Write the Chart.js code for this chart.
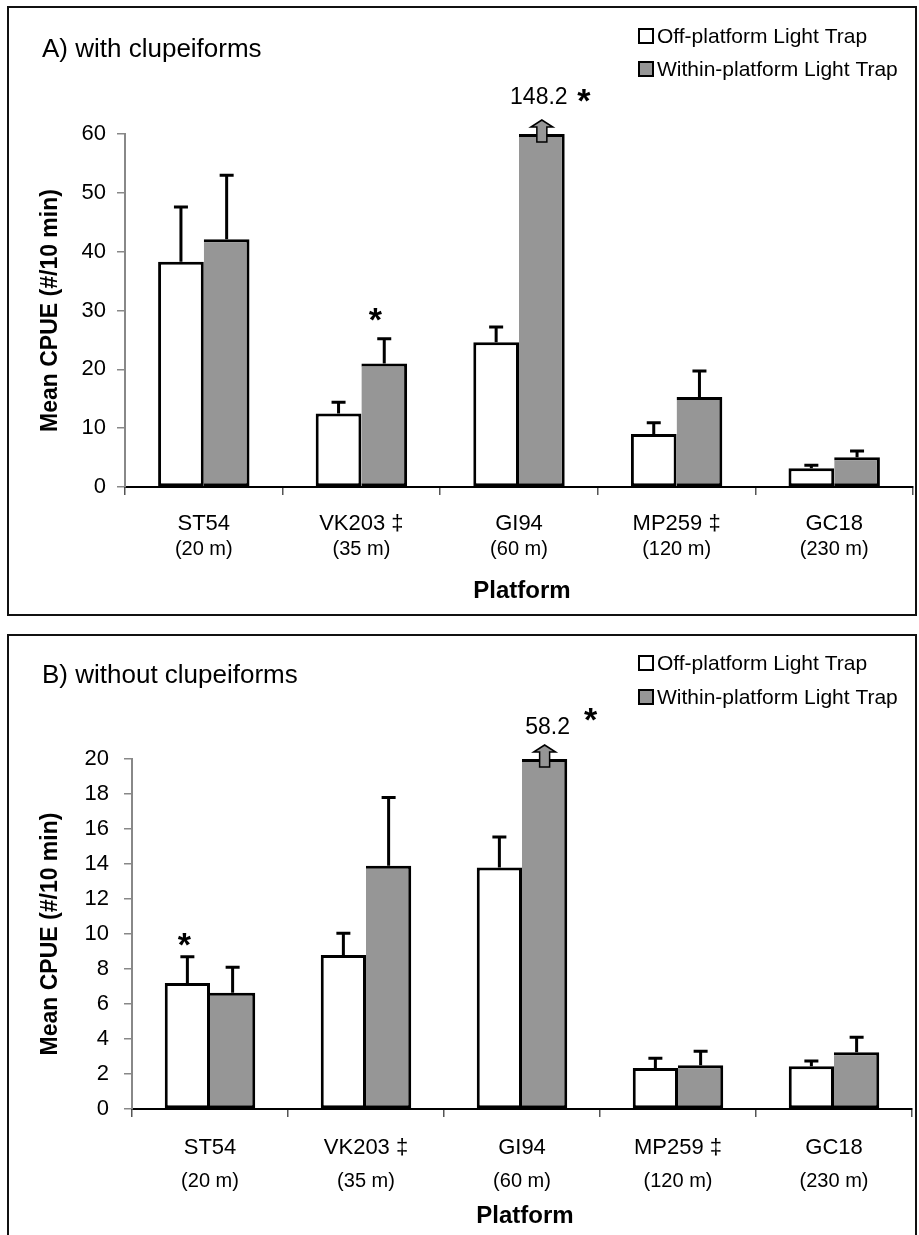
<!DOCTYPE html>
<html>
<head>
<meta charset="utf-8">
<script src="https://cdn.jsdelivr.net/npm/chart.js@4.4.1/dist/chart.umd.min.js"></script>
<style>
  html, body { margin: 0; padding: 0; background: #fff; overflow: hidden; }
  #page { position: relative; width: 919px; height: 1235px; }
  .frame { position: absolute; box-sizing: border-box; border: 2px solid #111; }
  canvas { position: absolute; left: 0; }
</style>
</head>
<body>
<div id="page">
  <div class="frame" style="left:7px;top:6px;width:910px;height:610px"></div>
  <div class="frame" style="left:7px;top:634px;width:910px;height:640px"></div>
  <canvas id="chart-a" width="919" height="625" style="top:0"></canvas>
  <canvas id="chart-b" width="919" height="610" style="top:625px"></canvas>
</div>
<script>
'use strict';

var platforms = ['ST54', 'VK203 \u2021', 'GI94', 'MP259 \u2021', 'GC18'];
var depths = ['(20 m)', '(35 m)', '(60 m)', '(120 m)', '(230 m)'];
var seriesNames = ['Off-platform Light Trap', 'Within-platform Light Trap'];

// A) with clupeiforms  (mean and +1 SE)
var offA = [38.3, 12.5, 24.6, 9.0, 3.2];
var offErrA = [9.3, 1.9, 2.6, 1.9, 0.5];
var withinA = [42.1, 21.0, 148.2, 15.3, 5.05];
var withinErrA = [10.9, 4.2, null, 4.4, 1.05];
var ticksA = [0, 10, 20, 30, 40, 50, 60];
var starsA = [{series: 1, index: 1}];

// B) without clupeiforms
var offB = [7.2, 8.8, 13.8, 2.35, 2.45];
var offErrB = [1.5, 1.25, 1.75, 0.55, 0.3];
var withinB = [6.65, 13.9, 58.2, 2.5, 3.25];
var withinErrB = [1.45, 3.9, null, 0.8, 0.85];
var ticksB = [0, 2, 4, 6, 8, 10, 12, 14, 16, 18, 20];
var starsB = [{series: 0, index: 0}];

var FONT = "'Liberation Sans', Arial, sans-serif";
var GRAY = '#969696';

var panels = [{
  id: 'chart-a', title: 'A) with clupeiforms',
  off: offA, offErr: offErrA, within: withinA, withinErr: withinErrA,
  ticks: ticksA, stars: starsA,
  padding: {left: 75, right: 6, top: 134, bottom: 38},
  tickPad: 11, titleY: 57, legendY: [36, 69], labelRows: [43, 68],
  starOffset: {dx: -9, dy: -27},
  capLabel: {dx: -3, dy: -36}, capStar: {dx: 42, dy: -41}
}, {
  id: 'chart-b', title: 'B) without clupeiforms',
  off: offB, offErr: offErrB, within: withinB, withinErr: withinErrB,
  ticks: ticksB, stars: starsB,
  padding: {left: 82, right: 7, top: 134, bottom: 26},
  tickPad: 15, titleY: 58, legendY: [38, 72], labelRows: [45, 78],
  starOffset: {dx: -3, dy: -20},
  capLabel: {dx: 3, dy: -31}, capStar: {dx: 46, dy: -47}
}];

function drawStar(ctx, x, cy) {
  ctx.font = 'bold 34px ' + FONT;
  ctx.textAlign = 'center';
  ctx.textBaseline = 'alphabetic';
  ctx.fillText('*', x, cy + 19);
}

function drawArrow(ctx, x, top) {
  ctx.save();
  ctx.fillStyle = GRAY;
  ctx.strokeStyle = '#000';
  ctx.lineWidth = 1.5;
  ctx.beginPath();
  ctx.moveTo(x - 5, top + 8);
  ctx.lineTo(x - 5, top - 7);
  ctx.lineTo(x - 11, top - 7);
  ctx.lineTo(x, top - 14);
  ctx.lineTo(x + 11, top - 7);
  ctx.lineTo(x + 5, top - 7);
  ctx.lineTo(x + 5, top + 8);
  ctx.closePath();
  ctx.fill();
  ctx.stroke();
  ctx.restore();
}

var extras = {
  id: 'extras',
  afterDraw: function(chart) {
    var p = chart.options.plugins.extras;
    var ctx = chart.ctx;
    var area = chart.chartArea;
    var xs = chart.scales.x;
    var ys = chart.scales.y;
    var raw = [p.off, p.within];
    var errs = [p.offErr, p.withinErr];

    ctx.save();
    // error bars (upper only)
    ctx.strokeStyle = '#000';
    ctx.lineWidth = 3;
    errs.forEach(function(err, di) {
      chart.getDatasetMeta(di).data.forEach(function(bar, i) {
        if (err[i] == null) return;
        var top = ys.getPixelForValue(raw[di][i] + err[i]);
        ctx.beginPath();
        ctx.moveTo(bar.x, bar.y);
        ctx.lineTo(bar.x, top);
        ctx.moveTo(bar.x - 7, top);
        ctx.lineTo(bar.x + 7, top);
        ctx.stroke();
      });
    });

    ctx.fillStyle = '#000';
    // bars cut at the axis maximum: arrow, true value and star
    raw.forEach(function(vals, di) {
      chart.getDatasetMeta(di).data.forEach(function(bar, i) {
        if (vals[i] <= ys.max) return;
        drawArrow(ctx, bar.x, bar.y);
        ctx.font = '23px ' + FONT;
        ctx.textAlign = 'center';
        ctx.textBaseline = 'middle';
        ctx.fillText(String(vals[i]), bar.x + p.capLabel.dx, area.top + p.capLabel.dy);
        drawStar(ctx, bar.x + p.capStar.dx, area.top + p.capStar.dy);
      });
    });

    // significance stars
    p.stars.forEach(function(s) {
      var bar = chart.getDatasetMeta(s.series).data[s.index];
      var top = ys.getPixelForValue(raw[s.series][s.index] + errs[s.series][s.index]);
      drawStar(ctx, bar.x + p.starOffset.dx, top + p.starOffset.dy);
    });

    // category labels
    ctx.textAlign = 'center';
    ctx.textBaseline = 'alphabetic';
    platforms.forEach(function(name, i) {
      var x = xs.getPixelForValue(i);
      ctx.font = '22px ' + FONT;
      ctx.fillText(name, x, area.bottom + p.labelRows[0]);
      ctx.font = '20px ' + FONT;
      ctx.fillText(depths[i], x, area.bottom + p.labelRows[1]);
    });

    // axis titles
    ctx.font = 'bold 24px ' + FONT;
    ctx.fillText('Platform', (area.left + area.right) / 2 + 3, 598);
    ctx.save();
    ctx.translate(57, (area.top + area.bottom) / 2);
    ctx.rotate(-Math.PI / 2);
    ctx.font = 'bold 23px ' + FONT;
    ctx.fillText('Mean CPUE (#/10 min)', 0, 0);
    ctx.restore();

    // panel title
    ctx.textAlign = 'left';
    ctx.font = '26px ' + FONT;
    ctx.fillText(p.title, 42, p.titleY);

    // legend
    ctx.font = '21px ' + FONT;
    ctx.textBaseline = 'middle';
    [ '#fff', GRAY ].forEach(function(fill, k) {
      var cy = p.legendY[k];
      ctx.fillStyle = fill;
      ctx.fillRect(639, cy - 7, 14, 14);
      ctx.strokeStyle = '#000';
      ctx.lineWidth = 2;
      ctx.strokeRect(639, cy - 7, 14, 14);
      ctx.fillStyle = '#000';
      ctx.fillText(seriesNames[k], 657, cy + 1);
    });
    ctx.restore();
  }
};

function capped(vals, max) {
  return vals.map(function(v) { return Math.min(v, max); });
}

panels.forEach(function(p) {
  var yMax = p.ticks[p.ticks.length - 1];
  var ctx = document.getElementById(p.id).getContext('2d');
  new Chart(ctx, {
    type: 'bar',
    data: {
      labels: platforms,
      datasets: [{
        label: seriesNames[0],
        data: capped(p.off, yMax),
        backgroundColor: '#fff',
        borderColor: '#000',
        borderWidth: 3,
        borderSkipped: false,
        barPercentage: 1,
        categoryPercentage: 0.58
      }, {
        label: seriesNames[1],
        data: capped(p.within, yMax),
        backgroundColor: GRAY,
        borderColor: '#000',
        borderWidth: {top: 3, right: 3, bottom: 3, left: 0},
        borderSkipped: false,
        barPercentage: 1,
        categoryPercentage: 0.58
      }]
    },
    options: {
      responsive: false,
      animation: false,
      events: [],
      layout: {padding: p.padding},
      plugins: {
        legend: {display: false},
        tooltip: {enabled: false},
        extras: p
      },
      scales: {
        x: {
          grid: {drawOnChartArea: false, color: '#555', lineWidth: 1.5, tickLength: 8, offset: true},
          border: {color: '#000', width: 2},
          ticks: {display: false},
          afterFit: function(s) { s.height = 100; }
        },
        y: {
          min: p.ticks[0],
          max: yMax,
          afterBuildTicks: function(s) {
            s.ticks = p.ticks.map(function(v) { return {value: v}; });
          },
          grid: {drawOnChartArea: false, color: '#888', lineWidth: 1.5, tickLength: 8},
          border: {color: '#888', width: 2},
          ticks: {font: {family: FONT, size: 22}, color: '#000', padding: p.tickPad},
          afterFit: function(s) { s.width = 50; }
        }
      }
    },
    plugins: [extras]
  });
});
</script>
</body>
</html>
